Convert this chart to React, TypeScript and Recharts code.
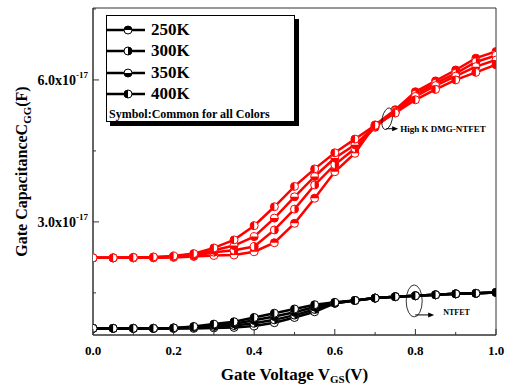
import React from 'react';
import { LineChart, Line, XAxis, YAxis, Legend, ReferenceArea, ReferenceDot, Label } from 'recharts';

// gate voltage (V)
const vgs = [0, 0.05, 0.1, 0.15, 0.2, 0.25, 0.3, 0.35, 0.4, 0.45, 0.5, 0.55, 0.6, 0.65, 0.7, 0.75, 0.8, 0.85, 0.9, 0.95, 1.0];

// gate capacitance, in units of 1e-17 F
const red250 = [2.24, 2.24, 2.24, 2.24, 2.25, 2.27, 2.29, 2.3, 2.37, 2.56, 2.97, 3.5, 4.06, 4.45, 5.05, 5.37, 5.75, 5.98, 6.21, 6.46, 6.6];
const red300 = [2.24, 2.24, 2.24, 2.25, 2.26, 2.28, 2.36, 2.4, 2.48, 2.83, 3.27, 3.78, 4.21, 4.55, 5.0, 5.35, 5.7, 5.93, 6.14, 6.38, 6.52];
const red350 = [2.24, 2.24, 2.25, 2.25, 2.27, 2.3, 2.4, 2.5, 2.69, 3.08, 3.53, 3.96, 4.35, 4.63, 5.02, 5.32, 5.65, 5.88, 6.08, 6.28, 6.42];
const red400 = [2.24, 2.24, 2.25, 2.26, 2.28, 2.33, 2.45, 2.62, 2.92, 3.32, 3.75, 4.12, 4.46, 4.75, 5.04, 5.3, 5.58, 5.8, 6.0, 6.16, 6.32];

const blk250 = [0.75, 0.75, 0.75, 0.75, 0.75, 0.75, 0.76, 0.77, 0.8, 0.87, 0.98, 1.1, 1.28, 1.34, 1.39, 1.42, 1.44, 1.46, 1.48, 1.49, 1.51];
const blk300 = [0.75, 0.75, 0.75, 0.75, 0.75, 0.77, 0.79, 0.81, 0.86, 0.93, 1.03, 1.15, 1.28, 1.34, 1.39, 1.42, 1.44, 1.46, 1.48, 1.49, 1.51];
const blk350 = [0.75, 0.75, 0.75, 0.75, 0.76, 0.78, 0.82, 0.85, 0.92, 1.0, 1.09, 1.2, 1.29, 1.34, 1.39, 1.42, 1.44, 1.46, 1.48, 1.49, 1.51];
const blk400 = [0.75, 0.75, 0.75, 0.75, 0.76, 0.79, 0.84, 0.89, 0.98, 1.07, 1.16, 1.25, 1.3, 1.34, 1.39, 1.42, 1.44, 1.46, 1.48, 1.49, 1.51];

const temps = ['250K', '300K', '350K', '400K'];
const xTicks = [0, 0.1, 0.2, 0.3, 0.4, 0.5, 0.6, 0.7, 0.8, 0.9, 1.0];
const yTicks = [1.5, 3, 4.5, 6, 7.5];

const data = vgs.map((v, i) => ({
  v,
  r250: red250[i], r300: red300[i], r350: red350[i], r400: red400[i],
  b250: blk250[i], b300: blk300[i], b350: blk350[i], b400: blk400[i],
}));

const halves = ['top', 'right', 'bottom', 'left'];
const tempKeys = ['250', '300', '350', '400'];

const FONT = 'Liberation Serif, DejaVu Serif, serif';
const RED = '#ff0000';
const txt = { fontFamily: FONT, fontWeight: 700 } as React.CSSProperties;

function halfPath(cx: number, cy: number, r: number, half: string) {
  switch (half) {
    case 'top': return `M${cx - r},${cy} A${r},${r} 0 0 1 ${cx + r},${cy} Z`;
    case 'right': return `M${cx},${cy - r} A${r},${r} 0 0 1 ${cx},${cy + r} Z`;
    case 'bottom': return `M${cx + r},${cy} A${r},${r} 0 0 1 ${cx - r},${cy} Z`;
    default: return `M${cx},${cy + r} A${r},${r} 0 0 1 ${cx},${cy - r} Z`;
  }
}

function HalfDot({ cx, cy, color, half }: any) {
  if (cx == null || cy == null) return null;
  const r = 4;
  return (
    <g>
      <circle cx={cx} cy={cy} r={r} fill="#fff" stroke={color} strokeWidth={1} />
      <path d={halfPath(cx, cy, r, half)} fill={color} />
    </g>
  );
}

function XTick({ x, y, payload }: any) {
  const v = payload.value;
  const major = Math.round(v * 10) % 2 === 0;
  return (
    <g>
      <line x1={x} y1={y} x2={x} y2={y - (major ? 6 : 3)} stroke="#333" />
      {major && (
        <text x={x} y={y + 20} textAnchor="middle" style={txt} fontSize={13} fill="#000">
          {v.toFixed(1)}
        </text>
      )}
    </g>
  );
}

function YTick({ x, y, payload }: any) {
  const v = payload.value;
  const major = v === 3 || v === 6;
  return (
    <g>
      <line x1={x} y1={y} x2={x + (major ? 6 : 3)} y2={y} stroke="#333" />
      {major && (
        <text x={x - 5} y={y + 5} textAnchor="end" style={txt} fontSize={14} fill="#000">
          {v.toFixed(1) + 'x10'}
          <tspan dy={-7} fontSize={9}>-17</tspan>
        </text>
      )}
    </g>
  );
}

function LegendBox() {
  return (
    <div
      style={{
        ...txt, position: 'relative', width: 187, height: 105, border: '1px solid #000', background: '#fff',
        boxShadow: '4px 4px 0 #000', color: '#000',
      }}
    >
      {temps.map((t, i) => (
        <div key={t} style={{ position: 'absolute', left: 0, top: 5 + i * 21.3, height: 18, display: 'flex', alignItems: 'center' }}>
          <svg width={40} height={18}>
            <line x1={0} y1={9} x2={38} y2={9} stroke="#000" strokeWidth={2.5} />
            <HalfDot cx={21} cy={9} color="#000" half={halves[i]} />
          </svg>
          <span style={{ marginLeft: 4, fontSize: 17, lineHeight: '18px' }}>{t}</span>
        </div>
      ))}
      <div style={{ position: 'absolute', left: 2, top: 91, fontSize: 12, whiteSpace: 'nowrap' }}>
        Symbol:Common for all Colors
      </div>
    </div>
  );
}

function Arrow({ x1, x2, y }: any) {
  return (
    <g>
      <line x1={x1} y1={y} x2={x2 - 4} y2={y} stroke="#000" strokeWidth={1} />
      <polygon points={`${x2},${y} ${x2 - 6},${y - 2.5} ${x2 - 6},${y + 2.5}`} fill="#000" />
    </g>
  );
}

function HighKNote({ cx, cy }: any) {
  if (cx == null) return null;
  return (
    <g>
      <ellipse cx={cx} cy={cy} rx={5} ry={11} fill="none" stroke="#000" strokeWidth={0.8} transform={`rotate(12 ${cx} ${cy})`} />
      <Arrow x1={cx - 1} x2={cx + 11} y={cy + 10} />
      <text x={cx + 13} y={cy + 13} style={txt} fontSize={9} fill="#000">High K DMG-NTFET</text>
    </g>
  );
}

function NtfetNote({ cx, cy }: any) {
  if (cx == null) return null;
  return (
    <g>
      <ellipse cx={cx} cy={cy} rx={8} ry={16} fill="none" stroke="#000" strokeWidth={0.8} />
      <Arrow x1={cx + 1} x2={cx + 20} y={cy + 14} />
      <text x={cx + 29} y={cy + 14} style={txt} fontSize={8} fill="#000">NTFET</text>
    </g>
  );
}

export default function App() {
  const series = [
    ...tempKeys.map((k, i) => ({ key: 'b' + k, color: '#000', half: halves[i] })),
    ...tempKeys.map((k, i) => ({ key: 'r' + k, color: RED, half: halves[i] })),
  ];
  return (
    <div style={{ position: 'absolute', left: 0, top: 0, background: '#fff' }}>
      <LineChart width={507} height={387} data={data} margin={{ top: 8, right: 11, left: 0, bottom: 0 }}>
        <XAxis
          dataKey="v" type="number" domain={[0, 1]} ticks={xTicks} interval={0} allowDataOverflow
          tick={<XTick />} tickLine={false} tickSize={0} tickMargin={0} height={52} axisLine={{ stroke: '#333' }}
        >
          <Label
            content={({ viewBox }: any) => (
              <text x={viewBox.x + viewBox.width / 2} y={viewBox.y + 45} textAnchor="middle" style={txt} fontSize={17} fill="#000">
                Gate Voltage V
                <tspan dy={3} fontSize={11}>GS</tspan>
                <tspan dy={-3} fontSize={17}>(V)</tspan>
              </text>
            )}
          />
        </XAxis>
        <YAxis
          type="number" domain={[0.61, 7.52]} ticks={yTicks} interval={0} allowDataOverflow width={93}
          tick={<YTick />} tickLine={false} tickSize={0} tickMargin={0} axisLine={{ stroke: '#333' }}
        >
          <Label
            content={({ viewBox }: any) => {
              const cx = 27;
              const cy = viewBox.y + viewBox.height / 2;
              return (
                <text x={cx} y={cy} transform={`rotate(-90 ${cx} ${cy})`} textAnchor="middle" style={txt} fontSize={16} fill="#000">
                  Gate CapacitanceC
                  <tspan dy={4} fontSize={11}>GG</tspan>
                  <tspan dy={-4} fontSize={16}>(F)</tspan>
                </text>
              );
            }}
          />
        </YAxis>
        <ReferenceArea x1={0} x2={1} y1={0.61} y2={7.52} fill="none" fillOpacity={0} stroke="#333" strokeWidth={1} />
        <Legend
          layout="vertical" align="center" verticalAlign="middle"
          content={() => <LegendBox />}
          wrapperStyle={{ left: 106, top: 15, width: 200, height: 112 }}
        />
        {series.map((s) => (
          <Line
            key={s.key} dataKey={s.key} type="linear" stroke={s.color} strokeWidth={2.5}
            isAnimationActive={false} activeDot={false} legendType="none"
            dot={(p: any) => <HalfDot key={`${s.key}-${p.index}`} cx={p.cx} cy={p.cy} color={s.color} half={s.half} />}
          />
        ))}
        <ReferenceDot x={0.73} y={5.18} r={0} shape={(p: any) => <HighKNote cx={p.cx} cy={p.cy} />} />
        <ReferenceDot x={0.797} y={1.33} r={0} shape={(p: any) => <NtfetNote cx={p.cx} cy={p.cy} />} />
      </LineChart>
    </div>
  );
}
